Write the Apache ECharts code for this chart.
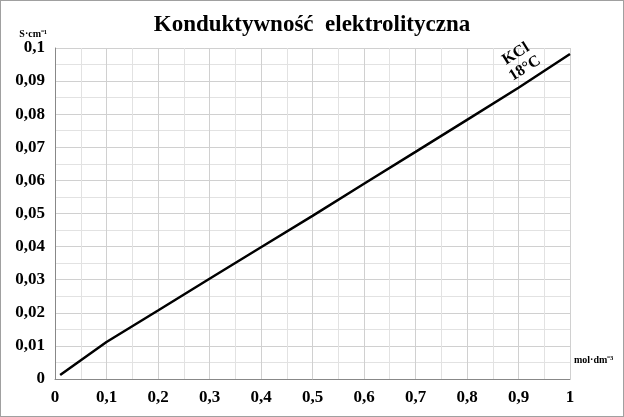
<!DOCTYPE html>
<html><head><meta charset="utf-8">
<script src="https://cdn.jsdelivr.net/npm/echarts@6/dist/echarts.min.js"></script>
<style>html,body{margin:0;padding:0;background:#fff}#c{width:622px;height:415px;border:1px solid #a0a0a0}</style>
</head><body><div id="c"></div>
<script>
const concentration = [0.01, 0.1, 0.2, 0.3, 0.4, 0.5, 0.6, 0.7, 0.8, 0.9, 1.0];
const conductivity = [0.00122, 0.01119, 0.0207, 0.0303, 0.0398, 0.0493, 0.0590, 0.0686, 0.0783, 0.0880, 0.0982];
const fmt = v => (Math.round(v * 100) / 100).toString().replace('.', ',');
const font = {fontFamily: 'Liberation Serif', fontWeight: 'bold', color: '#000'};
const chart = echarts.init(document.getElementById('c'));
chart.setOption({
  animation: false,
  title: {text: 'Konduktywność  elektrolityczna', left: 'center', top: 8,
    textStyle: {...font, fontSize: 23}},
  grid: {left: 54, right: 53, top: 47, bottom: 37},
  xAxis: {type: 'value', min: 0, max: 1, interval: 0.1,
    name: 'mol·dm⁻³', nameGap: 4, nameTextStyle: {...font, fontSize: 10, verticalAlign: 'bottom', padding: [0, 0, 14, 0]},
    axisLine: {lineStyle: {color: '#888'}}, axisTick: {show: false},
    axisLabel: {...font, fontSize: 17, margin: 10, formatter: fmt},
    splitLine: {lineStyle: {color: '#d0d0d0'}},
    minorTick: {show: false, splitNumber: 2}, minorSplitLine: {show: true, lineStyle: {color: '#e2e2e2'}}},
  yAxis: {type: 'value', min: 0, max: 0.1, interval: 0.01,
    name: 'S·cm⁻¹', nameGap: 8, nameTextStyle: {...font, fontSize: 10, align: 'right', padding: [0, 8, 0, 0]},
    axisLine: {show: true, lineStyle: {color: '#888'}}, axisTick: {show: false},
    axisLabel: {...font, fontSize: 17, margin: 10, formatter: fmt},
    splitLine: {lineStyle: {color: '#d0d0d0'}},
    minorTick: {show: false, splitNumber: 2}, minorSplitLine: {show: true, lineStyle: {color: '#e2e2e2'}}},
  series: [{type: 'line', data: concentration.map((x, i) => [x, conductivity[i]]),
    symbol: 'none', lineStyle: {color: '#000', width: 2.5},
    markPoint: {symbol: 'circle', symbolSize: 1, itemStyle: {color: 'rgba(0,0,0,0)'},
      data: [{coord: [0.9, 0.0935], label: {show: true, position: 'inside', formatter: 'KCl\n18°C',
      ...font, fontSize: 16, lineHeight: 17, rotate: 32, offset: [6, -6]}}]}}]
});
</script></body></html>
